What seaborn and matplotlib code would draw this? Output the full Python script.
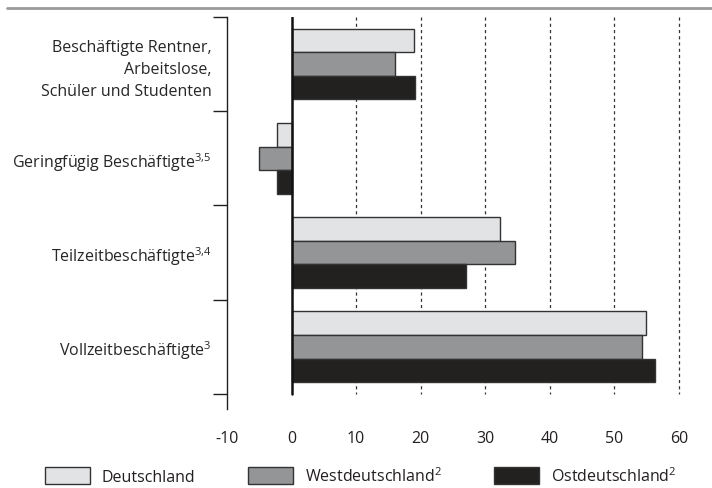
import pandas as pd
import numpy as np
import matplotlib.pyplot as plt
import seaborn as sns
from matplotlib.lines import Line2D
from matplotlib.ticker import FixedLocator

categories = ["Beschäftigte Rentner,\nArbeitslose,\nSchüler und Studenten",
              "Geringfügig Beschäftigte$^{3{,}5}$",
              "Teilzeitbeschäftigte$^{3{,}4}$",
              "Vollzeitbeschäftigte$^{3}$"]
regions = ["Deutschland", "Westdeutschland$^{2}$", "Ostdeutschland$^{2}$"]
deutschland = [19.0, -2.3, 32.3, 54.9]
westdeutschland = [16.1, -5.0, 34.7, 54.3]
ostdeutschland = [19.2, -2.3, 27.0, 56.3]
xticks = [-10, 0, 10, 20, 30, 40, 50, 60]
colors = ["#e2e3e4", "#939598", "#231f20"]

df = pd.DataFrame({
    "Kategorie": categories * 3,
    "Region": np.repeat(regions, len(categories)),
    "Wert": deutschland + westdeutschland + ostdeutschland,
})

sns.set_style("white")
plt.rcParams['font.family'] = ['Open Sans', 'DejaVu Sans']
plt.rcParams['mathtext.fontset'] = 'custom'
plt.rcParams['mathtext.rm'] = 'Open Sans'
plt.rcParams['mathtext.it'] = 'Open Sans'
plt.rcParams['text.color'] = '#231f20'

fig = plt.figure(figsize=(7.12, 4.89), dpi=100)
ax = fig.add_axes([227 / 712, 79 / 489, 453.7 / 712, 392 / 489])

sns.barplot(data=df, y="Kategorie", x="Wert", hue="Region", orient="h",
            palette=colors, width=0.75, edgecolor="#333333", linewidth=1,
            errorbar=None, ax=ax)

handles, labels = ax.get_legend_handles_labels()
ax.get_legend().remove()

ax.set_xlim(-10, 60.3)
ax.set_ylim(3.66, -0.5)
ax.set_xlabel("")
ax.set_ylabel("")

# dotted grid + zero line
for x in xticks[2:]:
    ax.plot([x, x], [-0.5, 3.5], color="#333333", lw=0.9, ls=(0, (2.5, 2.5)), zorder=0)
ax.plot([0, 0], [-0.5, 3.5], color="#111111", lw=1.8, zorder=3)

for s in ["top", "right", "bottom"]:
    ax.spines[s].set_visible(False)
ax.spines["left"].set_color("#231f20")
ax.spines["left"].set_linewidth(1)

ax.set_xticks(xticks)
ax.set_xticklabels([str(t) for t in xticks])
ax.tick_params(axis="x", direction="in", length=10, width=1, color="#555555",
               pad=15, labelsize=11.5, labelcolor="#231f20")
ax.yaxis.set_minor_locator(FixedLocator([-0.5, 0.5, 1.5, 2.5, 3.5]))
ax.tick_params(axis="y", which="major", length=0, pad=11, labelsize=11.5)
ax.tick_params(axis="y", which="minor", left=True, direction="out", length=10,
               width=1, color="#231f20")
for lab in ax.get_yticklabels():
    lab.set_horizontalalignment("right")
    lab.set_multialignment("right")
    lab.set_linespacing(1.5)

fig.legend(handles, labels, loc="center left", bbox_to_anchor=(45 / 712, 1 - 476.5 / 489),
           ncol=3, frameon=False, fontsize=11.5, handlelength=2.8, handleheight=1.3,
           handletextpad=0.75, columnspacing=3.3, borderpad=0, borderaxespad=0)

fig.add_artist(Line2D([7 / 712, 1], [1 - 8.5 / 489, 1 - 8.5 / 489], color="#999999", lw=2,
                      transform=fig.transFigure))

fig.savefig("out.png", dpi=100)
